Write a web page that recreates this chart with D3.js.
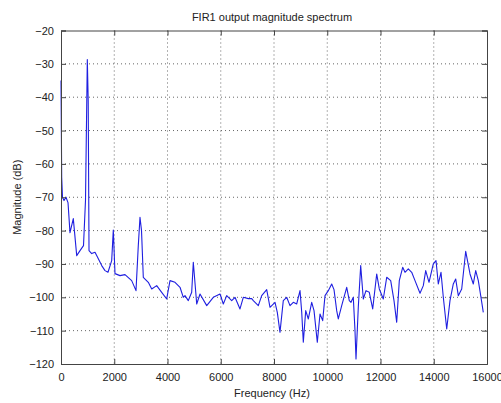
<!DOCTYPE html>
<html><head><meta charset="utf-8">
<script src="https://cdn.jsdelivr.net/npm/d3@7"></script>
<style>
html,body{margin:0;padding:0;background:#fff;}
svg{display:block;}
text{font-family:"Liberation Sans",Arial,sans-serif;fill:#222;}
</style></head>
<body><svg id="c" width="501" height="403"></svg>
<script>
const title = "FIR1 output magnitude spectrum";
const xLabel = "Frequency (Hz)";
const yLabel = "Magnitude (dB)";
const xTicks = [0,2000,4000,6000,8000,10000,12000,14000,16000];
const yTicks = [-20,-30,-40,-50,-60,-70,-80,-90,-100,-110,-120];

const freq = [0,26,56,113,188,263,338,462,590,714,845,920,988,1022,1052,1153,1277,1378,1529,1653,1765,1904,1964,2028,2216,2404,2655,2817,2903,2967,3024,3091,3279,3407,3594,3782,3970,4094,4282,4470,4594,4657,4781,4909,4969,5097,5221,5473,5720,5972,6096,6224,6412,6535,6723,6847,7035,7163,7223,7411,7538,7726,7850,8038,8124,8225,8349,8477,8601,8725,8853,8977,9041,9101,9191,9289,9416,9503,9627,9728,9829,9916,10040,10167,10254,10355,10415,10543,10731,10828,10892,10978,11042,11080,11166,11256,11354,11455,11579,11707,11857,11955,12105,12233,12383,12507,12608,12706,12834,12920,13044,13172,13296,13484,13608,13698,13822,13983,14085,14171,14272,14359,14487,14610,14734,14824,14922,15050,15200,15362,15486,15576,15674,15774,15861];
const mag = [-35,-64,-70,-71,-70,-71.6,-80.6,-76.4,-87.5,-86,-84.5,-71,-28.7,-41,-86,-86.9,-86.5,-88.1,-90.5,-92,-92.5,-89,-79.8,-92.9,-93.5,-93.2,-95,-98,-84.5,-76,-80,-94,-95.5,-97.5,-96.5,-98.5,-100.5,-95,-95.5,-97,-100,-99.5,-101,-98.5,-89.5,-102,-99,-102.5,-100,-99,-102,-99.5,-101,-100,-103.5,-100,-100.4,-100.4,-101,-102.5,-99.5,-97.7,-103,-101.5,-104.5,-110.5,-101,-100,-102.5,-101.5,-102,-98,-104.5,-113.5,-104,-106.5,-101.5,-104,-113.5,-105,-107,-99.5,-98,-96,-97.7,-104,-106.5,-102.5,-97,-101,-101.5,-100,-110,-118.5,-103,-90.5,-100.5,-98,-98.5,-103.5,-93,-97.5,-100.5,-94,-95,-101,-107.5,-95,-91,-92.5,-91.5,-92.5,-95,-98.8,-96.5,-92,-95.5,-90,-89,-96,-92.5,-100,-109.5,-101,-96,-94.5,-99.5,-97.5,-86.2,-93,-96,-92,-95,-100,-104.5];

const L = 61, R = 487, T = 30.5, B = 364;
const svg = d3.select("#c");
const x = d3.scaleLinear().domain([0,16000]).range([L,R]);
const y = d3.scaleLinear().domain([-120,-20]).range([B,T]);

// grid
const g = svg.append("g");
g.selectAll("line.vg").data(xTicks.slice(1,-1)).join("line")
  .attr("x1",d=>x(d)).attr("x2",d=>x(d)).attr("y1",T).attr("y2",B)
  .attr("stroke","#666").attr("stroke-width",1).attr("stroke-dasharray","1,3");
g.selectAll("line.hg").data(yTicks.slice(1,-1)).join("line")
  .attr("y1",d=>y(d)).attr("y2",d=>y(d)).attr("x1",L).attr("x2",R)
  .attr("stroke","#666").attr("stroke-width",1).attr("stroke-dasharray","1,3");

// line
const line = d3.line().x((d,i)=>x(freq[i])).y(d=>y(d));
svg.append("path").datum(mag).attr("d",line)
  .attr("fill","none").attr("stroke","#1f1fe0").attr("stroke-width",1.1)
  .attr("stroke-linejoin","round");

// axes (MATLAB style, ticks inside)
const ax = d3.axisBottom(x).tickValues(xTicks).tickSize(-5).tickPadding(9).tickFormat(d3.format("d"));
const ay = d3.axisLeft(y).tickValues(yTicks).tickSize(-5).tickPadding(9).tickFormat(d3.format("d"));
const gx = svg.append("g").attr("transform",`translate(0,${B})`).call(ax);
const gy = svg.append("g").attr("transform",`translate(${L},0)`).call(ay);
const gxt = svg.append("g").attr("transform",`translate(0,${T})`).call(d3.axisTop(x).tickValues(xTicks).tickSize(-5).tickFormat(""));
const gyr = svg.append("g").attr("transform",`translate(${R},0)`).call(d3.axisRight(y).tickValues(yTicks).tickSize(-5).tickFormat(""));
[gx,gy,gxt,gyr].forEach(a=>{
  a.select(".domain").attr("stroke","#444");
  a.selectAll(".tick line").attr("stroke","#444");
  a.selectAll("text").attr("font-size",11).attr("fill","#222")
    .attr("font-family","'Liberation Sans',Arial,sans-serif");
});
gy.selectAll("text").attr("dx","2");

svg.append("text").attr("x",272).attr("y",21).attr("text-anchor","middle")
  .attr("font-size",11).text(title);
svg.append("text").attr("x",272).attr("y",397).attr("text-anchor","middle")
  .attr("font-size",11).text(xLabel);
svg.append("text").attr("transform",`translate(21,${(T+B)/2}) rotate(-90)`).attr("text-anchor","middle")
  .attr("font-size",11).text(yLabel);
</script></body></html>
